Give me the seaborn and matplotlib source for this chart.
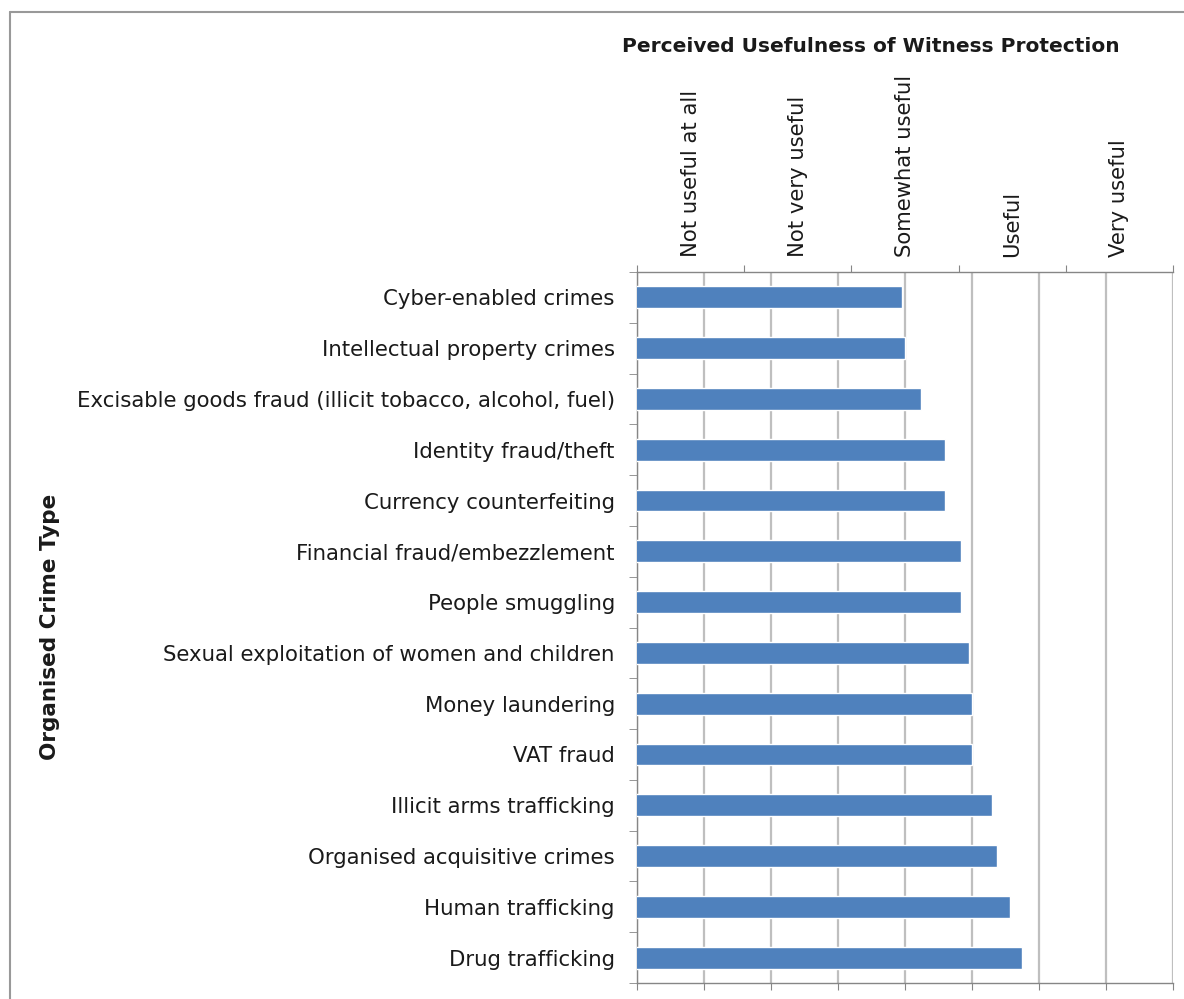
import matplotlib
matplotlib.use("Agg")
import matplotlib.pyplot as plt
from matplotlib.lines import Line2D
from matplotlib.ticker import MultipleLocator, FixedLocator, NullFormatter
import seaborn as sns
import pandas as pd

# categories, top to bottom
crime_types = [
    "Cyber-enabled crimes",
    "Intellectual property crimes",
    "Excisable goods fraud (illicit tobacco, alcohol, fuel)",
    "Identity fraud/theft",
    "Currency counterfeiting",
    "Financial fraud/embezzlement",
    "People smuggling",
    "Sexual exploitation of women and children",
    "Money laundering",
    "VAT fraud",
    "Illicit arms trafficking",
    "Organised acquisitive crimes",
    "Human trafficking",
    "Drug trafficking",
]
# mean rating on a 1-5 scale
usefulness = [2.98, 3.00, 3.12, 3.30, 3.30, 3.42, 3.42, 3.48, 3.50, 3.50,
              3.65, 3.69, 3.78, 3.87]
# top axis categories
scale_labels = ["Not useful at all", "Not very useful", "Somewhat useful",
                "Useful", "Very useful"]

df = pd.DataFrame({"crime": crime_types, "score": usefulness})

sns.set_style("white")
plt.rcParams['font.family'] = ['DejaVu Sans']

BAR = "#4F81BD"
GRID = "#BFBFBF"
AXIS = "#868686"
TXT = "#1a1a1a"

fig = plt.figure(figsize=(11.84, 9.99), dpi=100)
ax = fig.add_axes([637 / 1184, 16 / 999, 536 / 1184, 711 / 999])

sns.barplot(data=df, x="score", y="crime", orient="h", color=BAR,
            width=0.43, saturation=1, ax=ax, zorder=3)

ax.set_xlim(1, 5)
ax.set_ylim(13.5, -0.5)
ax.xaxis.set_major_locator(MultipleLocator(0.5))
ax.xaxis.set_major_formatter(NullFormatter())
ax.grid(axis="x", color=GRID, linewidth=1.6, zorder=0)
ax.set_axisbelow(True)
ax.set_xlabel("")
ax.set_ylabel("")

for side in ["right", "top"]:
    ax.spines[side].set_visible(False)
for side in ["left", "bottom"]:
    ax.spines[side].set_color(AXIS)
    ax.spines[side].set_linewidth(1.0)

ax.tick_params(axis="x", which="major", direction="out", length=5,
               color=AXIS, bottom=True)
ax.tick_params(axis="y", which="major", length=0, pad=16,
               labelsize=15.3, labelcolor=TXT)
ax.yaxis.set_minor_locator(FixedLocator([i - 0.5 for i in range(len(crime_types) + 1)]))
ax.tick_params(axis="y", which="minor", direction="out", length=6,
               color=AXIS, left=True)

# top category axis
ax2 = ax.twiny()
ax2.set_xlim(0, 5)
ax2.xaxis.set_major_locator(FixedLocator(range(6)))
ax2.xaxis.set_major_formatter(NullFormatter())
ax2.xaxis.set_minor_locator(FixedLocator([i + 0.5 for i in range(5)]))
ax2.set_xticklabels(scale_labels, minor=True, rotation=90, fontsize=15.2,
                    color=TXT)
ax2.tick_params(axis="x", which="major", direction="out", length=5,
                color=AXIS)
ax2.tick_params(axis="x", which="minor", length=0, pad=11)
for side in ["left", "right", "bottom"]:
    ax2.spines[side].set_visible(False)
ax2.spines["top"].set_color(AXIS)
ax2.spines["top"].set_linewidth(1.0)

fig.text(871 / 1184, 1 - 47 / 999, "Perceived Usefulness of Witness Protection",
         ha="center", va="center", fontsize=14.5, fontweight="bold", color=TXT)
fig.text(50 / 1184, 1 - 627 / 999, "Organised Crime Type", rotation=90,
         ha="center", va="center", fontsize=15.5, fontweight="bold", color=TXT)

# outer frame
fig.add_artist(Line2D([10 / 1184, 1], [1 - 12 / 999, 1 - 12 / 999],
                      color="#999999", linewidth=1.5))
fig.add_artist(Line2D([10 / 1184, 10 / 1184], [0, 1 - 12 / 999],
                      color="#999999", linewidth=1.5))

fig.savefig("out.png", dpi=100)
